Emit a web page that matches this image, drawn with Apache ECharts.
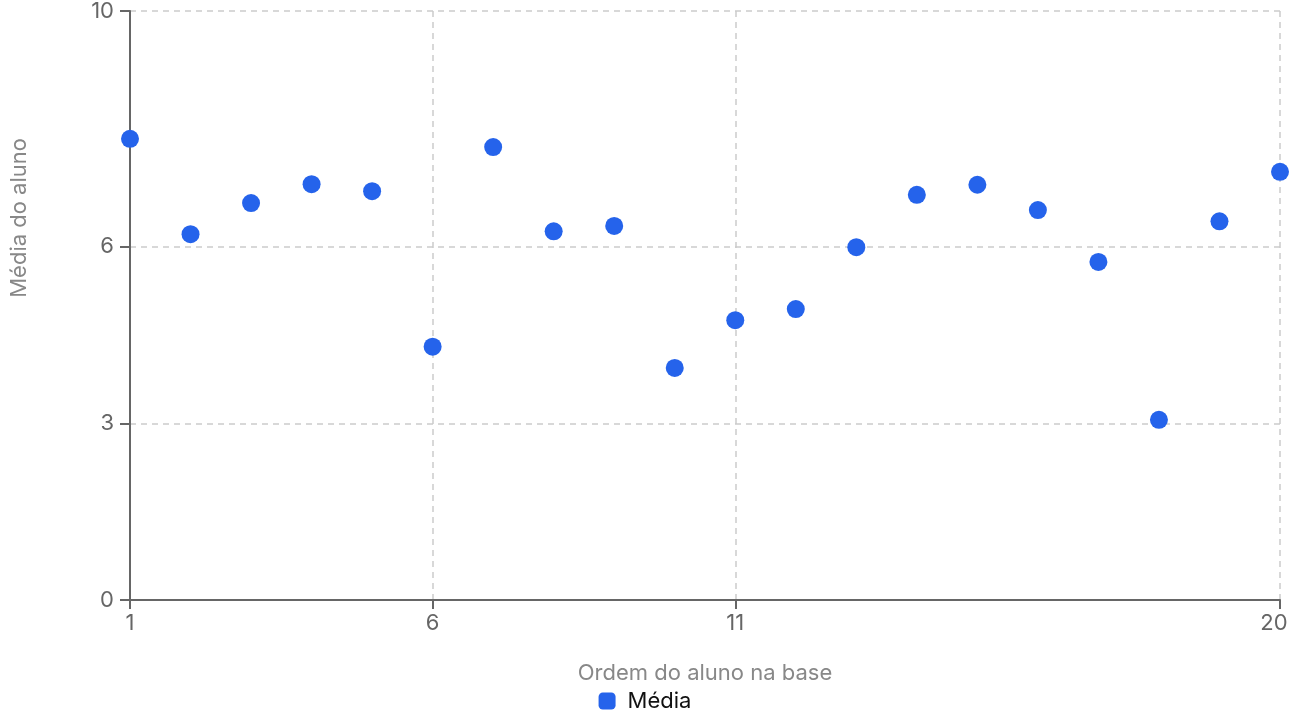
<!DOCTYPE html>
<html>
<head>
<meta charset="utf-8">
<title>Média do aluno</title>
<script src="https://cdn.jsdelivr.net/npm/echarts@6/dist/echarts.min.js"></script>
<style>
  html, body { margin: 0; padding: 0; background: #fff; }
  #chart { width: 1290px; height: 726px; }
</style>
</head>
<body>
<div id="chart"></div>
<script>
// dados
var ordens = [1, 2, 3, 4, 5, 6, 7, 8, 9, 10, 11, 12, 13, 14, 15, 16, 17, 18, 19, 20];
var medias = [7.83, 6.21, 6.74, 7.06, 6.94, 4.30, 7.69, 6.26, 6.35, 3.94, 4.75, 4.94, 5.99, 6.88, 7.05, 6.62, 5.74, 3.06, 6.43, 7.27];
var xTicks = [1, 6, 11, 20];
var yTicks = [0, 3, 6, 10];

var chart = echarts.init(document.getElementById('chart'));
var font = 'Inter, "Noto Sans", sans-serif';

var option = {
  animation: false,
  textStyle: { fontFamily: font },
  grid: { left: 130, right: 10, top: 11, bottom: 126, outerBoundsMode: 'none', containLabel: false },
  legend: {
    bottom: 9,
    left: 'center',
    icon: 'roundRect',
    itemWidth: 17,
    itemHeight: 17,
    textStyle: { fontSize: 22, color: '#111', fontFamily: font, padding: [0, 0, 0, 7] },
    data: ['Média']
  },
  graphic: [{
    type: 'text',
    left: 8,
    top: 138,
    rotation: Math.PI / 2,
    style: {
      text: 'Média do aluno',
      fontSize: 22,
      fill: '#888',
      fontFamily: font
    }
  }],
  xAxis: {
    type: 'value',
    min: 1,
    max: 20,
    name: 'Ordem do aluno na base',
    nameLocation: 'middle',
    nameGap: 62,
    nameTextStyle: { fontSize: 22, color: '#888' },
    axisLine: { lineStyle: { color: '#666', width: 2 } },
    axisTick: { show: true, inside: false, length: 9, lineStyle: { color: '#666', width: 2 }, customValues: xTicks },
    axisLabel: {
      fontSize: 22, color: '#666', margin: 12, customValues: xTicks,
      formatter: function (v) { return v === 20 ? '{last|' + v + '}' : String(v); },
      rich: { last: { fontSize: 22, color: '#666', padding: [0, 12, 0, 0] } }
    },
    splitLine: { show: true, lineStyle: { color: '#ccc', type: [6, 5], width: 1.5 } }
  },
  yAxis: {
    type: 'value',
    min: 0,
    max: 10,
    axisLine: { show: true, lineStyle: { color: '#666', width: 2 } },
    axisTick: { show: true, inside: false, length: 10, lineStyle: { color: '#666', width: 2 }, customValues: yTicks },
    axisLabel: { fontSize: 22, color: '#666', margin: 16, customValues: yTicks },
    splitLine: { show: true, lineStyle: { color: '#ccc', type: [6, 5], width: 1.5 } }
  },
  series: [{
    name: 'Média',
    type: 'scatter',
    symbolSize: 18,
    itemStyle: { color: '#2563EB', opacity: 1 },
    data: ordens.map(function (o, i) { return [o, medias[i]]; })
  }]
};

chart.setOption(option);
</script>
</body>
</html>
